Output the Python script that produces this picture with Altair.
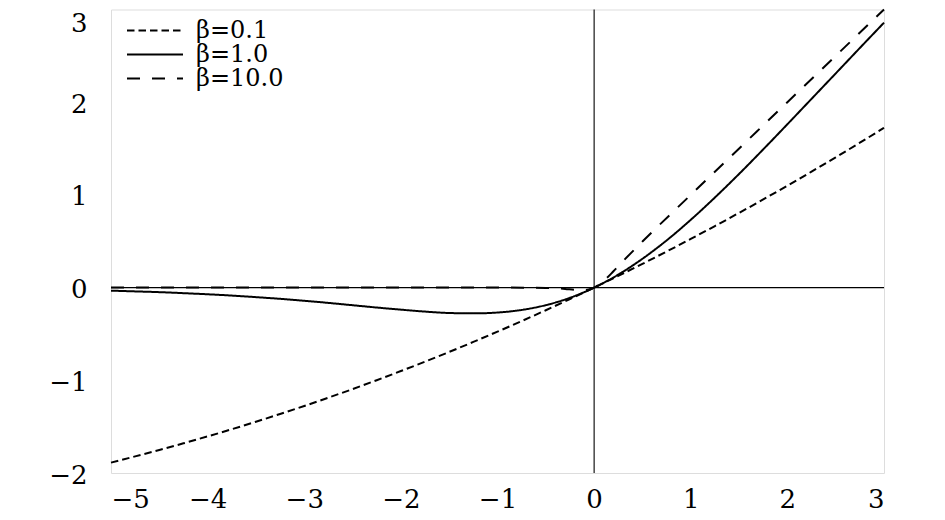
import altair as alt
import pandas as pd

# ---- data ----
x_grid = [-5.0, -4.75, -4.5, -4.25, -4.0, -3.75, -3.5, -3.25, -3.0, -2.75, -2.5,
          -2.25, -2.0, -1.75, -1.5, -1.25, -1.0, -0.75, -0.5, -0.25, 0.0,
          0.25, 0.5, 0.75, 1.0, 1.25, 1.5, 1.75, 2.0, 2.25, 2.5, 2.75, 3.0]

swish_b01 = [-1.888, -1.821, -1.752, -1.680, -1.605, -1.528, -1.447, -1.363, -1.277, -1.187, -1.095,
             -0.999, -0.900, -0.799, -0.694, -0.586, -0.475, -0.361, -0.244, -0.123, 0.000,
             0.127, 0.256, 0.389, 0.525, 0.664, 0.806, 0.951, 1.100, 1.251, 1.405, 1.563, 1.723]

swish_b1 = [-0.033, -0.041, -0.049, -0.060, -0.072, -0.086, -0.103, -0.121, -0.142, -0.165, -0.190,
            -0.215, -0.238, -0.259, -0.274, -0.278, -0.269, -0.241, -0.189, -0.110, 0.000,
            0.140, 0.311, 0.509, 0.731, 0.972, 1.226, 1.491, 1.762, 2.036, 2.310, 2.585, 2.858]

x_b10 = [-5.0, -1.0, -0.5, -0.3, -0.2, -0.1, 0.0, 0.1, 0.2, 0.3, 0.5, 1.0, 2.0, 3.0]
swish_b10 = [0.0, 0.0, -0.003, -0.014, -0.024, -0.027, 0.0, 0.073, 0.176, 0.286, 0.497, 1.0, 2.0, 3.0]

series_labels = ["β=0.1", "β=1.0", "β=10.0"]
x_ticks = [-5, -4, -3, -2, -1, 0, 1, 2, 3]
y_ticks = [-2, -1, 0, 1, 2, 3]
zero_lines = [0]

# ---- build the table ----
rows = []
for i, (x, y) in enumerate(zip(x_grid, swish_b01)):
    rows.append({"x": x, "y": y, "series": series_labels[0], "i": i})
for i, (x, y) in enumerate(zip(x_grid, swish_b1)):
    rows.append({"x": x, "y": y, "series": series_labels[1], "i": i})
for i, (x, y) in enumerate(zip(x_b10, swish_b10)):
    rows.append({"x": x, "y": y, "series": series_labels[2], "i": i})
df = pd.DataFrame(rows)
zero_df = pd.DataFrame({"v": zero_lines})

FONT = "DejaVu Serif"
FS = 26

x_scale = alt.Scale(domain=[-5, 3], nice=False, zero=False)
y_scale = alt.Scale(domain=[-2, 3], nice=False, zero=False)

x_axis = alt.Axis(values=x_ticks, format="d", title=None, grid=False, domain=False,
                  ticks=False, tickSize=0, labelPadding=13, labelFont=FONT,
                  labelFontSize=FS, labelColor="black")
y_axis = alt.Axis(values=y_ticks, format="d", title=None, grid=False, domain=False,
                  ticks=False, tickSize=0, labelPadding=24, labelFont=FONT,
                  labelFontSize=FS, labelColor="black",
                  labelOffset={"condition": {"test": "datum.value === 3", "value": 14},
                               "value": 2})

hline = alt.Chart(zero_df).mark_rule(color="black", strokeWidth=1.1).encode(
    y=alt.Y("v:Q", scale=y_scale, axis=y_axis)
)
vline = alt.Chart(zero_df).mark_rule(color="black", strokeWidth=1.1).encode(
    x=alt.X("v:Q", scale=x_scale, axis=x_axis)
)

curves = alt.Chart(df).mark_line(color="black", strokeWidth=2, interpolate="monotone",
                                 strokeCap="butt").encode(
    x=alt.X("x:Q", scale=x_scale, axis=x_axis),
    y=alt.Y("y:Q", scale=y_scale, axis=y_axis),
    strokeDash=alt.StrokeDash(
        "series:N",
        scale=alt.Scale(domain=series_labels, range=[[7.5, 4], [1, 0], [13, 12]]),
        legend=alt.Legend(title=None, orient="none", legendX=32, legendY=9,
                          symbolType="M-2.8,0L2.8,0", symbolSize=400, symbolStrokeWidth=2,
                          symbolStrokeColor="black", labelFont=FONT, labelFontSize=24,
                          labelColor="black", labelOffset=29, rowPadding=-4,
                          padding=0),
    ),
    order="i:Q",
)

chart = alt.layer(hline, vline, curves).properties(
    width=773, height=463.5,
    autosize=alt.AutoSizeParams(type="none"),
    padding={"left": 103, "top": 1.5, "right": 50, "bottom": 44},
).configure_view(stroke=None).configure(background="white")

chart.save("out.html", embed_options={"renderer": "svg", "actions": False})
